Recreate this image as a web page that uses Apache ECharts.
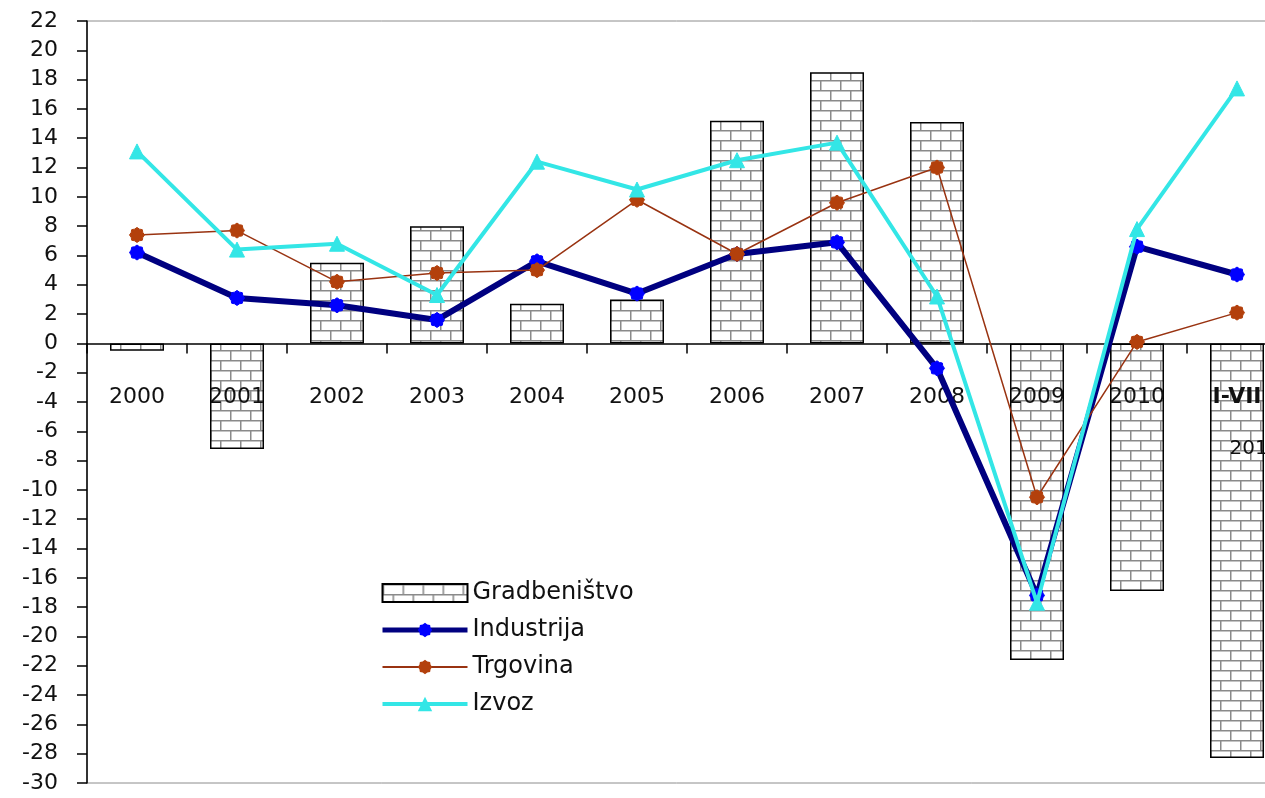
<!DOCTYPE html>
<html><head><meta charset="utf-8">
<script src="https://cdn.jsdelivr.net/npm/echarts@6/dist/echarts.min.js"></script>
<style>html,body{margin:0;padding:0;background:#fff}#c{width:1265px;height:798px}</style>
</head><body><div id="c"></div>
<script>
var categories = ['2000','2001','2002','2003','2004','2005','2006','2007','2008','2009','2010','I-VII 2011'];
var gradbenistvo = [-0.5,-7.2,5.5,8.0,2.7,3.0,15.2,18.5,15.1,-21.6,-16.9,-28.3];
var industrija = [6.2,3.1,2.6,1.6,5.6,3.4,6.1,6.9,-1.7,-17.2,6.6,4.7];
var trgovina = [7.4,7.7,4.2,4.8,5.0,9.8,6.1,9.6,12.0,-10.5,0.1,2.1];
var izvoz = [13.1,6.4,6.8,3.3,12.4,10.5,12.5,13.7,3.2,-17.7,7.8,17.4];

// brick pattern
var pc = document.createElement('canvas');
pc.width = 20; pc.height = 20;
var g = pc.getContext('2d');
g.fillStyle = '#ffffff'; g.fillRect(0,0,20,20);
g.strokeStyle = '#8a8a8a'; g.lineWidth = 1.5;
g.beginPath();
g.moveTo(0,0.75); g.lineTo(20,0.75);
g.moveTo(0,10.75); g.lineTo(20,10.75);
g.moveTo(0.75,0); g.lineTo(0.75,10);
g.moveTo(10.75,10); g.lineTo(10.75,20);
g.stroke();

// gear-like marker
function gearPath(){
  var n = 16, s = 'path://';
  for (var i=0;i<n;i++){
    var r = (i%2===0)?50:42, a = Math.PI*2*i/n;
    s += (i===0?'M':'L') + (50+r*Math.cos(a)).toFixed(1) + ',' + (50+r*Math.sin(a)).toFixed(1) + ' ';
  }
  return s + 'Z';
}
var gear = gearPath();

var FONT = 'DejaVu Sans';
var GRID_TOP = 21, GRID_BOTTOM = 15, H = 798, YMIN = -30, YMAX = 22;
var plotH = H - GRID_TOP - GRID_BOTTOM;
var zeroOffset = -(plotH * (0 - YMIN) / (YMAX - YMIN));

var chart = echarts.init(document.getElementById('c'));
chart.setOption({
  backgroundColor: '#ffffff',
  animation: false,
  grid: {left: 87, right: -22, top: GRID_TOP, bottom: GRID_BOTTOM, containLabel: false, outerBoundsMode: 'none',
         show: true, borderColor: '#8c8c8c', borderWidth: 1, backgroundColor: 'transparent'},
  legend: {
    orient: 'vertical', left: 375, top: 573, itemWidth: 85, itemHeight: 18, itemGap: 7,
    textStyle: {fontFamily: FONT, fontSize: 24, color: '#111', lineHeight: 30},
    data: [
      {name: 'Gradbeništvo', icon: 'rect'},
      {name: 'Industrija', lineStyle: {width: 5}},
      {name: 'Trgovina'},
      {name: 'Izvoz', lineStyle: {width: 4}}
    ]
  },
  xAxis: {
    type: 'category', data: categories, z: 3, offset: zeroOffset,
    axisLine: {onZero: false, lineStyle: {color: '#000', width: 1.5}},
    axisTick: {show: true, length: 10, lineStyle: {color: '#000', width: 1.5}},
    axisLabel: {
      margin: 43, interval: 0, fontFamily: FONT, fontSize: 22, color: '#111',
      formatter: function(v){
        if (v.indexOf('I-VII') === 0) { var p = v.split(' '); return '{b|' + p[0] + '}\n{c|' + p[1] + '}'; }
        return v;
      },
      rich: {
        b: {fontFamily: FONT, fontSize: 22, fontWeight: 'bold', color: '#111', lineHeight: 22},
        c: {fontFamily: FONT, fontSize: 20, color: '#111', lineHeight: 80, padding: [0,0,0,36]}
      }
    }
  },
  yAxis: {
    type: 'value', min: YMIN, max: YMAX, interval: 2,
    axisLine: {show: true, lineStyle: {color: '#000', width: 1.5}},
    axisTick: {show: true, length: 10, lineStyle: {color: '#000', width: 1.5}},
    splitLine: {show: false},
    axisLabel: {margin: 29, fontFamily: FONT, fontSize: 22, color: '#111'}
  },
  series: [
    {name: 'Gradbeništvo', type: 'bar', data: gradbenistvo, barWidth: 54, z: 2,
     itemStyle: {color: {image: pc, repeat: 'repeat'}, borderColor: '#000', borderWidth: 1.5}},
    {name: 'Industrija', type: 'line', data: industrija, z: 4,
     lineStyle: {color: '#000080', width: 6}, symbol: gear, symbolSize: 15,
     itemStyle: {color: '#0000ff', borderColor: '#0000ff'}},
    {name: 'Trgovina', type: 'line', data: trgovina, z: 5,
     lineStyle: {color: '#993311', width: 1.5}, symbol: gear, symbolSize: 15,
     itemStyle: {color: '#b3400c', borderColor: '#b3400c'}},
    {name: 'Izvoz', type: 'line', data: izvoz, z: 6,
     lineStyle: {color: '#33e6e6', width: 4}, symbol: 'triangle', symbolSize: 15,
     itemStyle: {color: '#33e6e6', borderColor: '#33e6e6'}}
  ]
});
</script></body></html>
